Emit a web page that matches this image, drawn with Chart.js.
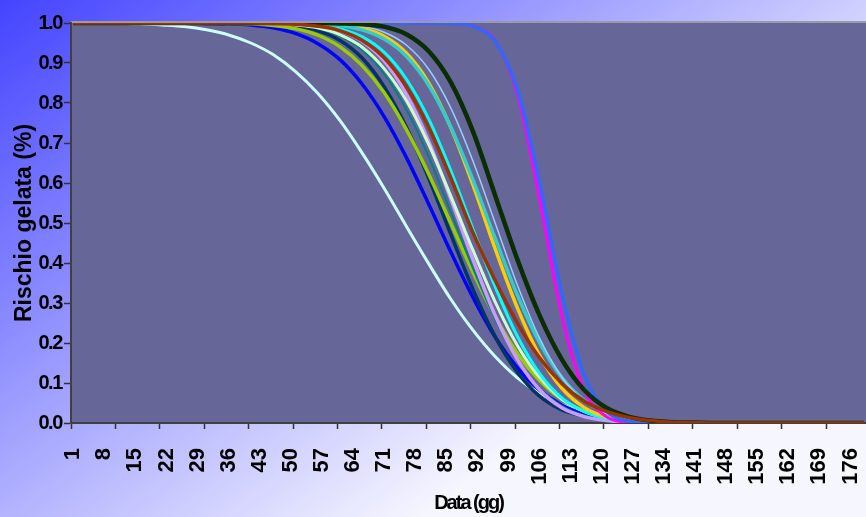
<!DOCTYPE html>
<html><head><meta charset="utf-8">
<script src="https://cdn.jsdelivr.net/npm/chart.js@4.4.1/dist/chart.umd.min.js"></script>
<style>html,body{margin:0;padding:0;background:#fff;overflow:hidden}#wrap{width:866px;height:517px}canvas{display:block}</style>
</head><body><div id="wrap"><canvas id="c" width="866" height="517"></canvas></div>
<script>
// categories: days 1..179
const days = [];
for (let d = 1; d <= 179; d++) days.push(String(d));

const sampleDays = [1,6,11,16,21,26,31,36,41,46,51,56,61,66,71,76,81,86,91,96,101,106,111,116,121,126,131,136,141,146,151,156,161,166,171,176,179];

const sBrown      = [1,1,1,1,1,1,1,1,1,.999,.997,.992,.981,.957,.913,.841,.740,.613,.476,.356,.250,.163,.099,.055,.029,.014,.006,.002,.001,0,0,0,0,0,0,0,0];
const sDarkGreen  = [1,1,1,1,1,1,1,1,1,1,1,1,.999,.997,.991,.972,.930,.852,.729,.569,.409,.269,.159,.083,.038,.016,.006,.002,.001,0,0,0,0,0,0,0,0];
const sBlue2      = [1,1,1,1,1,1,1,1,1,1,1,1,1,1,1,1,1,.999,.992,.954,.834,.601,.324,.121,.030,.005,.001,0,0,0,0,0,0,0,0,0,0];
const sMagenta    = [1,1,1,1,1,1,1,1,1,1,1,1,1,1,1,1,1,.999,.993,.955,.822,.561,.269,.083,.016,.002,0,0,0,0,0,0,0,0,0,0,0];
const sLightBlue  = [1,1,1,1,1,1,1,1,1,1,1,.999,.997,.992,.977,.945,.885,.788,.655,.500,.345,.212,.115,.055,.023,.008,.003,.001,0,0,0,0,0,0,0,0,0];
const sTeal       = [1,1,1,1,1,1,1,1,1,1,.999,.998,.994,.983,.960,.917,.845,.740,.608,.462,.320,.201,.114,.057,.026,.010,.004,.001,0,0,0,0,0,0,0,0,0];
const sGold       = [1,1,1,1,1,1,1,1,1,1,1,.999,.996,.987,.967,.925,.851,.739,.595,.436,.288,.169,.087,.039,.015,.005,.002,0,0,0,0,0,0,0,0,0,0];
const sCyan       = [1,1,1,1,1,1,1,1,1,1,.998,.995,.986,.966,.927,.860,.761,.632,.485,.341,.217,.124,.063,.029,.011,.004,.001,0,0,0,0,0,0,0,0,0,0];
const sLightGreen = [1,1,1,1,1,1,1,1,.999,.998,.995,.988,.971,.940,.886,.806,.697,.568,.432,.303,.194,.114,.060,.029,.013,.005,.002,.001,0,0,0,0,0,0,0,0,0];
const sLavender   = [1,1,1,1,1,1,1,1,1,.999,.998,.993,.981,.955,.905,.822,.705,.561,.409,.269,.159,.083,.038,.016,.006,.002,0,0,0,0,0,0,0,0,0,0,0];
const sTealDark   = [1,1,1,1,1,1,1,1,1,.998,.995,.987,.968,.933,.873,.784,.666,.528,.387,.260,.159,.087,.043,.019,.008,.003,.001,0,0,0,0,0,0,0,0,0,0];
const sYellowGrn  = [1,1,1,1,1,1,1,.999,.998,.994,.986,.970,.941,.894,.826,.734,.623,.500,.377,.266,.174,.106,.059,.030,.014,.006,.002,.001,0,0,0,0,0,0,0,0,0];
const sNavy       = [1,1,1,1,1,1,1,1,.999,.997,.992,.981,.957,.913,.841,.740,.613,.472,.334,.216,.127,.067,.033,.018,.010,.005,.002,.001,0,0,0,0,0,0,0,0,0];
const sBlue       = [1,1,1,1,1,1,.999,.998,.995,.988,.974,.949,.909,.848,.766,.664,.548,.428,.314,.215,.138,.082,.045,.023,.011,.005,.002,.001,0,0,0,0,0,0,0,0,0];
const sWhite      = [1,1,.999,.998,.995,.991,.983,.970,.950,.921,.879,.825,.757,.676,.587,.492,.399,.310,.232,.166,.113,.074,.046,.027,.015,.008,.004,.002,.001,0,0,0,0,0,0,0,0];

const yTicks = [0,0.1,0.2,0.3,0.4,0.5,0.6,0.7,0.8,0.9,1.0];

function pts(arr){ return sampleDays.map((d,i)=>({x:String(d), y:arr[i]})); }
function ds(arr, color, w){ return {data:pts(arr), borderColor:color, borderWidth:w, pointRadius:0, fill:false, cubicInterpolationMode:'monotone'}; }

const bgPlugin = {
  id:'bg',
  beforeDraw(chart){
    const {ctx, chartArea:a, width, height} = chart;
    ctx.save();
    const g = ctx.createLinearGradient(0,0,400,534);
    g.addColorStop(0,'rgb(68,68,255)');
    g.addColorStop(1,'rgb(246,246,255)');
    ctx.fillStyle = g; ctx.fillRect(0,0,width,height);
    ctx.fillStyle = '#666699'; ctx.fillRect(a.left,a.top,a.right-a.left,a.bottom-a.top);
    ctx.strokeStyle = '#9a9aaa'; ctx.lineWidth = 2;
    ctx.beginPath(); ctx.moveTo(a.left,a.top-1); ctx.lineTo(a.right,a.top-1); ctx.stroke();
    ctx.restore();
  }
};

const FONT = "'Liberation Sans', Arial, sans-serif";

const chart = new Chart(document.getElementById('c'), {
  type:'line',
  data:{
    labels: days,
    datasets:[
      ds(sBrown,'#993300',3.5),
      ds(sDarkGreen,'#0a2e00',4.5),
      ds(sBlue2,'#3366ff',3.5),
      ds(sMagenta,'#ff00ff',3),
      ds(sLightBlue,'#99ccff',1.5),
      ds(sTeal,'#33cccc',3.5),
      ds(sGold,'#ffcc00',3.5),
      ds(sCyan,'#00ffff',3),
      ds(sLightGreen,'#ccffcc',3),
      ds(sLavender,'#cc99ff',3.5),
      ds(sTealDark,'#008080',2),
      ds(sYellowGrn,'#99cc00',3.5),
      ds(sNavy,'#003366',3.5),
      ds(sBlue,'#0000ff',3.5),
      ds(sWhite,'#ccffff',3)
    ]
  },
  options:{
    responsive:false, animation:false, devicePixelRatio:1,
    layout:{padding:{top:23,right:0,bottom:0,left:0}},
    plugins:{legend:{display:false}, tooltip:{enabled:false}},
    scales:{
      x:{
        type:'category', offset:true,
        grid:{display:true, offset:true, drawOnChartArea:false, drawTicks:true, tickLength:6, tickWidth:1.5,
              tickColor:(c)=> (c.index % 10 === 0 ? '#333333' : 'rgba(0,0,0,0)')},
        border:{display:true, color:'#404040', width:2},
        ticks:{autoSkip:false, maxRotation:90, minRotation:90, padding:19, color:'#000',
               font:{family:FONT, weight:'bold', size:22},
               callback:(v,i)=> (i % 7 === 0 ? days[i] : '')},
        title:{display:true, text:'Data (gg)', color:'#000', font:{family:FONT, weight:'bold', size:20}, padding:{top:0,bottom:2}},
        afterFit(s){ s.height = 94; s.paddingLeft = 0; s.paddingRight = 0; }
      },
      y:{
        min:0, max:1,
        afterBuildTicks(s){ s.ticks = yTicks.map(v=>({value:v})); },
        grid:{drawOnChartArea:false, tickLength:7, tickWidth:1.5, tickColor:'#333333'},
        border:{display:true, color:'#404040', width:2},
        ticks:{padding:2, color:'#000', font:{family:FONT, weight:'bold', size:20}, callback:(v)=>Number(v).toFixed(1)},
        title:{display:true, text:'Rischio gelata (%)', color:'#000', font:{family:FONT, weight:'bold', size:23}, padding:{top:11,bottom:0}},
        afterFit(s){ s.width = 71; s.paddingTop = 0; s.paddingBottom = 0; }
      }
    }
  },
  plugins:[bgPlugin]
});

function spaced(scale, method, sp){
  const orig = scale[method];
  scale[method] = function(...args){
    const c = this.ctx; c.save(); c.letterSpacing = sp;
    const r = orig.apply(this, args); c.restore(); return r;
  };
}
spaced(chart.scales.y, 'drawLabels', '-1.4px');
spaced(chart.scales.x, 'drawTitle', '-2px');
chart.draw();
</script></body></html>
